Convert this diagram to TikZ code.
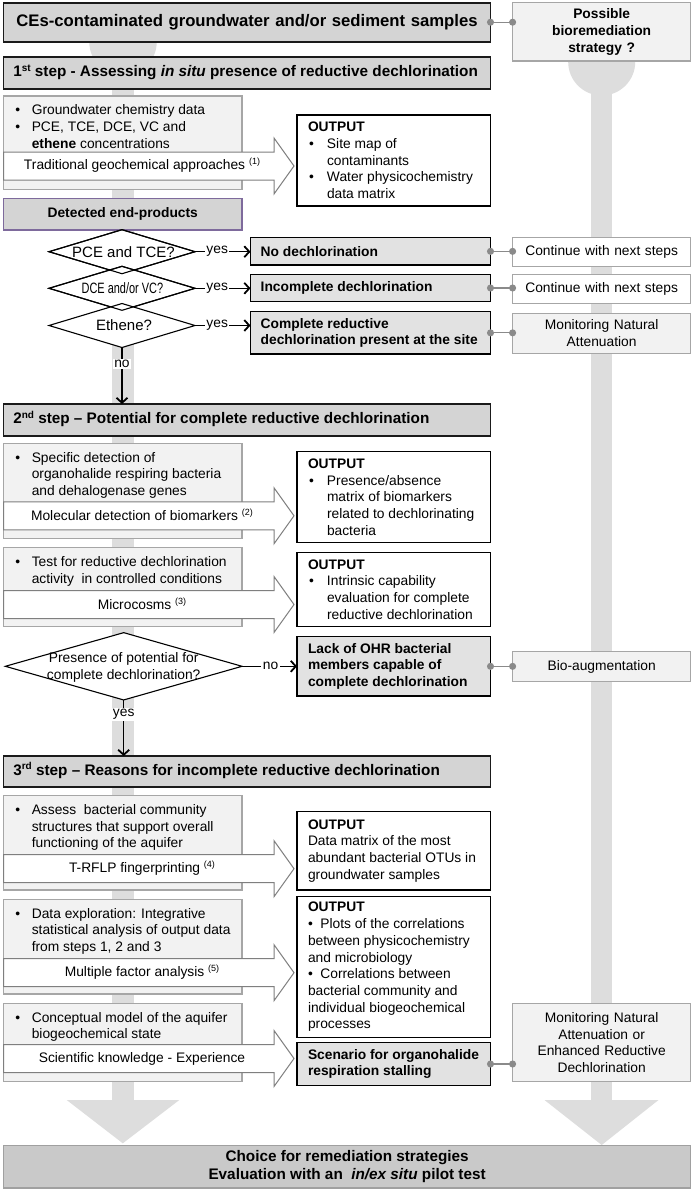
\documentclass[tikz,border=0pt]{standalone}
\usepackage{fontspec}
\usepackage{graphicx}
\setmainfont{Liberation Sans}
\usetikzlibrary{arrows.meta,shapes.geometric}
\definecolor{stepfill}{HTML}{D4D4D4}
\definecolor{stepline}{HTML}{1A1A1A}
\definecolor{resfill}{HTML}{E2E2E2}
\definecolor{infill}{HTML}{F2F2F2}
\definecolor{stemc}{HTML}{DDDDDD}
\definecolor{lgline}{HTML}{A6A6A6}
\definecolor{arrline}{HTML}{7F7F7F}
\definecolor{connc}{HTML}{8A8A8A}
\definecolor{purp}{HTML}{7E6A9C}
\definecolor{choicefill}{HTML}{C9C9C9}
\definecolor{choiceline}{HTML}{A0A0A0}
\newcommand\fbody{\fontsize{13.8}{16.7}\selectfont}
\newcommand\fdec{\fontsize{15}{17}\selectfont}
\newcommand\fbold{\fontsize{13.8}{16.7}\selectfont\bfseries}
\newcommand\fstep{\fontsize{15.3}{18}\selectfont\bfseries}
\newcommand\ftitle{\fontsize{16.7}{20}\selectfont\bfseries}
\newcommand\fright{\fontsize{13.8}{16.8}\selectfont}
\newcommand\fchoice{\fontsize{15.3}{18}\selectfont\bfseries}
\newcommand\supx[1]{\smash{\raisebox{4.8pt}{\fontsize{9}{9}\selectfont #1}}}
\newcommand\supb[1]{\smash{\raisebox{5.5pt}{\fontsize{10}{10}\selectfont\bfseries #1}}}
\newcommand\ibul{\makebox[16.5pt][l]{\textbullet}}
\newcommand\iind{\hspace*{16.5pt}}
\newcommand\obul{\makebox[19pt][l]{\hspace{1pt}\textbullet}}
\newcommand\oind{\hspace*{19pt}}
\newcommand\pbul{\makebox[12.4pt][l]{\textbullet}}
\newcommand\bigarr[1]{\path[bigarrow] (3.5,{#1-14}) -- (274,{#1-14}) -- (274,{#1-28}) -- (294,#1) -- (274,{#1+28}) -- (274,{#1+14}) -- (3.5,{#1+14}) -- cycle;}
\begin{document}
\begin{tikzpicture}[x=1pt,y=-1pt,
  bx/.style={inner sep=0pt, outer sep=0pt, anchor=north west},
  stepbox/.style={bx, draw=stepline, line width=1.7pt, fill=stepfill},
  inbox/.style={bx, draw=lgline, line width=1.1pt, fill=infill},
  outbox/.style={bx, draw=black, line width=1.4pt, fill=white},
  resbox/.style={bx, draw=black, line width=1.5pt, fill=resfill},
  rbox/.style={bx, draw=lgline, line width=1.2pt, fill=infill, align=center, text width=172pt, font=\fright},
  txt/.style={inner sep=0pt, outer sep=0pt, align=left, font=\fbody},
  bigarrow/.style={draw=arrline, line width=1pt, fill=white, line join=miter},
  decision/.style={diamond, draw=black, line width=1.1pt, fill=white, inner sep=0pt, outer sep=0pt},
  flow/.style={draw=black, line width=1.1pt, -{Straight Barb[length=5pt,width=11pt,line width=1.8pt]}},
  lab/.style={fill=white, inner sep=1.5pt, font=\fbody},
  conn/.style={draw=connc, line width=1.2pt, {Circle[length=7pt]}-{Circle[length=7pt]}, shorten <=-3.5pt, shorten >=-3.5pt}
]
\useasboundingbox (0,0) rectangle (692,1191);
\fill[white] (0,0) rectangle (692,1191);
% background flow bands
\fill[stemc] (123,42) circle[radius=33.7pt];
\fill[stemc] (111.7,42) rectangle (134,1100.5);
\fill[stemc] (66.7,1100) -- (179.3,1100) -- (122.8,1143.3) -- cycle;
\fill[stemc] (601.7,62) circle[radius=33.5pt];
\fill[stemc] (591.2,62) rectangle (612.2,1100.5);
\fill[stemc] (544.5,1100) -- (658.5,1100) -- (601.7,1145) -- cycle;

% header and step boxes
\node[stepbox, minimum width=487pt, minimum height=39pt, font=\ftitle, text width=470pt, align=center] (title) at (3.5,2.7) {CEs-contaminated groundwater and/or sediment samples};
\node[rbox, minimum width=178.1pt, minimum height=58.3pt, font=\fright\bfseries] (poss) at (512.6,2.7) {Possible\\bioremediation\\strategy ?};
\node[stepbox, minimum width=487pt, minimum height=32.6pt] (step1) at (3.5,56.7) {};
\node[stepbox, minimum width=487pt, minimum height=31.7pt] (step2) at (3.5,404) {};
\node[stepbox, minimum width=487pt, minimum height=30.7pt] (step3) at (3.5,756) {};

% input boxes
\node[inbox, minimum width=238.5pt, minimum height=93.3pt] (in1) at (3.5,96) {};
\node[inbox, minimum width=238.5pt, minimum height=95pt] (in2) at (3.5,443.3) {};
\node[inbox, minimum width=238.5pt, minimum height=79pt] (in3) at (3.5,547.7) {};
\node[inbox, minimum width=238.5pt, minimum height=94.3pt] (in4) at (3.5,795.7) {};
\node[inbox, minimum width=238.5pt, minimum height=94.7pt] (in5) at (3.5,899.3) {};
\node[inbox, minimum width=238.5pt, minimum height=78.4pt] (in6) at (3.5,1003.3) {};

% big method arrows
\bigarr{166}
\bigarr{515.8}
\bigarr{604.5}
\bigarr{868.7}
\bigarr{972.7}
\bigarr{1058.5}

% output boxes
\node[outbox, minimum width=193.5pt, minimum height=91pt] (o1) at (297,115) {};
\node[outbox, minimum width=193.5pt, minimum height=91pt] (o2) at (297,451.7) {};
\node[outbox, minimum width=193.5pt, minimum height=74.4pt] (o3) at (297,552.3) {};
\node[outbox, minimum width=193.5pt, minimum height=78.3pt] (o4) at (297,811.7) {};
\node[outbox, minimum width=193.5pt, minimum height=140.6pt] (o5) at (297,896.7) {};

% result boxes
\node[resbox, minimum width=240pt, minimum height=27.3pt] (r1) at (250.5,237.7) {};
\node[resbox, minimum width=240pt, minimum height=27.4pt] (r2) at (250.5,274.3) {};
\node[resbox, minimum width=240pt, minimum height=42.3pt] (r3) at (250.5,311.7) {};
\node[resbox, minimum width=193.5pt, minimum height=59.3pt] (r4) at (297,636.7) {};
\node[resbox, minimum width=193.5pt, minimum height=43.4pt] (r5) at (297,1042.3) {};

% right column
\node[rbox, minimum width=178.1pt, minimum height=29pt, fill=white] (c1) at (512.6,237.7) {Continue with next steps};
\node[rbox, minimum width=178.1pt, minimum height=29pt, fill=white] (c2) at (512.6,274.3) {Continue with next steps};
\node[rbox, minimum width=178.1pt, minimum height=40pt] (mon1) at (512.6,313.3) {Monitoring Natural\\Attenuation};
\node[rbox, minimum width=178.1pt, minimum height=30pt] (bio) at (512.6,651.7) {Bio-augmentation};
\node[rbox, minimum width=178.1pt, minimum height=78.4pt] (mon2) at (512.6,1003.3) {Monitoring Natural\\Attenuation or\\Enhanced Reductive\\Dechlorination};

% detected box and final box
\node[bx, draw=purp, line width=1.3pt, fill=stepfill, minimum width=238.5pt, minimum height=31.7pt, font=\fbold] (det) at (3.5,198.3) {Detected end-products};
\node[bx, draw=choiceline, line width=1.4pt, fill=choicefill, minimum width=687.2pt, minimum height=42.5pt, align=center, font=\fchoice] (choice) at (3.5,1145.5) {Choice for remediation strategies\\Evaluation with an\ \ \textit{in/ex situ} pilot test};

% decisions
\node[decision, minimum width=146pt, minimum height=44pt] (d1) at (122,251.7) {};
\node[decision, minimum width=146pt, minimum height=44pt] (d2) at (122,288.3) {};
\node[decision, minimum width=146pt, minimum height=44pt] (d3) at (122,325.5) {};
\draw[line width=1.1pt] (d1.north) -- (d1.east) -- (d1.south) -- (d1.west) -- cycle;
\draw[line width=1.1pt] (d2.north) -- (d2.east) -- (d2.south) -- (d2.west) -- cycle;
\node[txt, font=\fdec] (d1t) at (123.5,251.7) {PCE and TCE?};
\node[txt, font=\fdec] (d2t) at (122.4,288.3) {\scalebox{0.73}[1]{DCE and/or VC?}};
\node[txt, font=\fdec] (d3t) at (124,325.5) {Ethene?};
\node[decision, minimum width=236.7pt, minimum height=67.3pt] (d4) at (123.7,666.3) {};
\node[txt, align=center] (d4t) at (123.7,667.5) {Presence of potential for\\complete dechlorination?};

% flow arrows
\draw[flow] (d1.east) -- node[lab, pos=0.4] (yes1) {yes} (d1.east -| r1.west);
\draw[flow] (d2.east) -- node[lab, pos=0.4] (yes2) {yes} (d2.east -| r2.west);
\draw[flow] (d3.east) -- node[lab, pos=0.4] (yes3) {yes} (d3.east -| r3.west);
\draw[flow] (d3.south) -- node[lab, pos=0.29] (no1) {no} (d3.south |- step2.north);
\draw[flow] (d4.east) -- node[lab, pos=0.52] (no2) {no} (d4.east -| r4.west);
\draw[flow] (d4.south) -- node[lab, pos=0.26] (yes4) {yes} (d4.south |- step3.north);

% connectors to strategies
\draw[conn] (title.east) -- (title.east -| poss.west);
\draw[conn] (r1.east) -- (r1.east -| c1.west);
\draw[conn] (r2.east) -- (r2.east -| c2.west);
\draw[conn] (r3.east) -- (r3.east -| mon1.west);
\draw[conn] (r4.east) -- (r4.east -| bio.west);
\draw[conn] (r5.east) -- (r5.east -| mon2.west);

% step texts
\node[txt, font=\fstep, anchor=west] (step1t) at ([xshift=9.8pt]step1.west) {1\supb{st} step - Assessing \textit{in situ} presence of reductive dechlorination};
\node[txt, font=\fstep, anchor=west] (step2t) at ([xshift=9.8pt]step2.west) {2\supb{nd} step -- Potential for complete reductive dechlorination};
\node[txt, font=\fstep, anchor=west] (step3t) at ([xshift=9.8pt]step3.west) {3\supb{rd} step -- Reasons for incomplete reductive dechlorination};

% input texts
\node[txt, anchor=north west] (in1t) at ([xshift=11.8pt,yshift=-8.8pt]in1.north west) {\ibul Groundwater chemistry data\\\ibul PCE, TCE, DCE, VC and\\\iind\textbf{ethene} concentrations};
\node[txt, anchor=north west] (in2t) at ([xshift=11.8pt,yshift=-8.8pt]in2.north west) {\ibul Specific detection of\\\iind organohalide respiring bacteria\\\iind and dehalogenase genes};
\node[txt, anchor=north west] (in3t) at ([xshift=11.8pt,yshift=-8.8pt]in3.north west) {\ibul Test for reductive dechlorination\\\iind activity\ \ in controlled conditions};
\node[txt, anchor=north west] (in4t) at ([xshift=11.8pt,yshift=-8.8pt]in4.north west) {\ibul Assess\ \ bacterial community\\\iind structures that support overall\\\iind functioning of the aquifer};
\node[txt, anchor=north west] (in5t) at ([xshift=11.8pt,yshift=-8.8pt]in5.north west) {\ibul Data exploration: Integrative\\\iind statistical analysis of output data\\\iind from steps 1, 2 and 3};
\node[txt, anchor=north west] (in6t) at ([xshift=11.8pt,yshift=-8.8pt]in6.north west) {\ibul Conceptual model of the aquifer\\\iind biogeochemical state};

% arrow texts
\node[txt] (a1) at (142,166) {Traditional geochemical approaches \supx{(1)}};
\node[txt] (a2) at (142,515.8) {Molecular detection of biomarkers \supx{(2)}};
\node[txt] (a3) at (142,604.5) {Microcosms \supx{(3)}};
\node[txt] (a4) at (142,868.7) {T-RFLP fingerprinting \supx{(4)}};
\node[txt] (a5) at (142,972.7) {Multiple factor analysis \supx{(5)}};
\node[txt] (a6) at (142,1058.5) {Scientific knowledge - Experience};

% output texts
\node[txt, anchor=west] (o1t) at ([xshift=11pt]o1.west) {\textbf{OUTPUT}\\\obul Site map of\\\oind contaminants\\\obul Water physicochemistry\\\oind data matrix};
\node[txt, anchor=west] (o2t) at ([xshift=11pt]o2.west) {\textbf{OUTPUT}\\\obul Presence/absence\\\oind matrix of biomarkers\\\oind related to dechlorinating\\\oind bacteria};
\node[txt, anchor=west] (o3t) at ([xshift=11pt]o3.west) {\textbf{OUTPUT}\\\obul Intrinsic capability\\\oind evaluation for complete\\\oind reductive dechlorination};
\node[txt, anchor=west] (o4t) at ([xshift=11pt]o4.west) {\textbf{OUTPUT}\\Data matrix of the most\\abundant bacterial OTUs in\\groundwater samples};
\node[txt, anchor=west] (o5t) at ([xshift=11pt]o5.west) {\textbf{OUTPUT}\\\pbul Plots of the correlations\\between physicochemistry\\and microbiology\\\pbul Correlations between\\bacterial community and\\individual biogeochemical\\processes};

% result texts
\node[txt, font=\fbold, anchor=west] (r1t) at ([xshift=10.2pt]r1.west) {No dechlorination};
\node[txt, font=\fbold, anchor=west] (r2t) at ([xshift=10.2pt]r2.west) {Incomplete dechlorination};
\node[txt, font=\fbold, anchor=west] (r3t) at ([xshift=10.2pt]r3.west) {Complete reductive\\dechlorination present at the site};
\node[txt, font=\fbold, anchor=west] (r4t) at ([xshift=11pt]r4.west) {Lack of OHR bacterial\\members capable of\\complete dechlorination};
\node[txt, font=\fbold, anchor=west] (r5t) at ([xshift=11pt]r5.west) {Scenario for organohalide\\respiration stalling};
\end{tikzpicture}
\end{document}
